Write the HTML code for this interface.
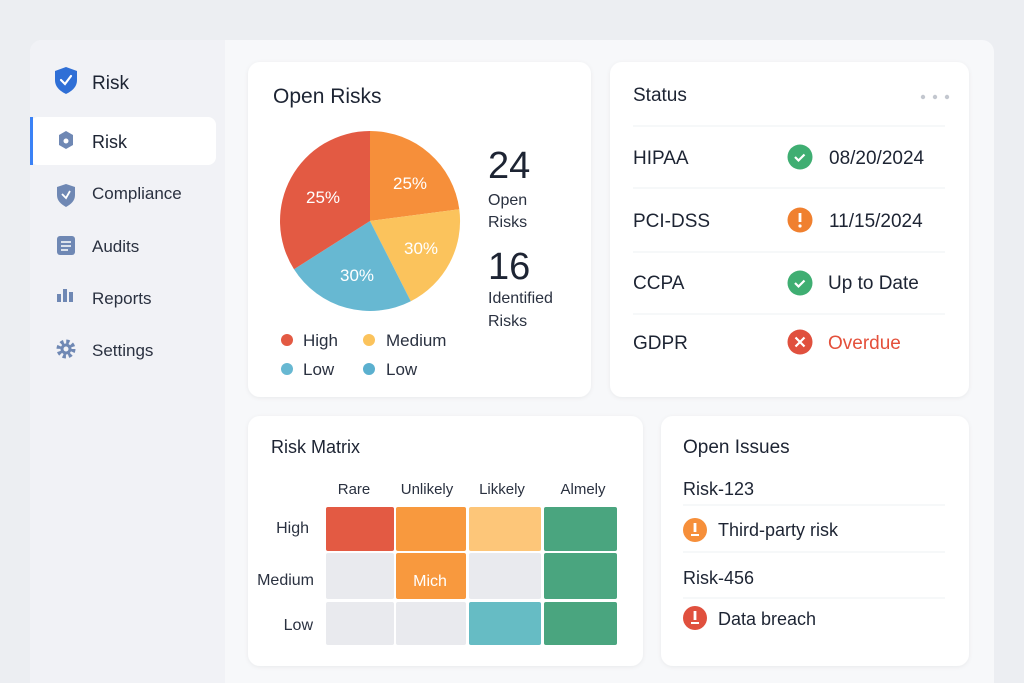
<!DOCTYPE html>
<html><head><meta charset="utf-8"><style>html,body{margin:0;padding:0;background:#eef0f4;overflow:hidden;width:1024px;height:683px}svg{display:block}text{font-family:"Liberation Sans",sans-serif}</style></head><body>
<svg width="1024" height="683" viewBox="0 0 1024 683" xmlns="http://www.w3.org/2000/svg">
<defs><filter id="sh" x="-10%" y="-10%" width="120%" height="120%"><feDropShadow dx="0" dy="1" stdDeviation="2" flood-color="#000" flood-opacity="0.06"/></filter></defs>
<rect width="1024" height="683" fill="#eceef2"/>
<path d="M42 40 H982 A12 12 0 0 1 994 52 V683 H30 V52 A12 12 0 0 1 42 40Z" fill="#f7f8fa"/>
<path d="M42 40 H225 V683 H30 V52 A12 12 0 0 1 42 40Z" fill="#f1f2f6"/>
<!-- sidebar -->
<path d="M66 67 L77 71 V80 C77 87 72 91 66 94 C60 91 55 87 55 80 V71Z" fill="#2f6fd6"/>
<path d="M61 80 L65 84 L71 76" stroke="#fff" stroke-width="2.2" fill="none" stroke-linecap="round"/>
<text x="92" y="89" font-size="19" fill="#1d2433">Risk</text>
<rect x="30" y="117" width="186" height="48" rx="8" fill="#fff"/>
<rect x="30" y="117" width="3" height="48" fill="#3b82f6"/>
<path d="M66 131 L73 135 V145 L66 149 L59 145 V135Z" fill="#6f88b4"/>
<circle cx="66" cy="141" r="2.5" fill="#fff"/>
<text x="92" y="148" font-size="18" fill="#1d2433">Risk</text>
<path d="M66 184 L75 187 V195 C75 201 71 204 66 207 C61 204 57 201 57 195 V187Z" fill="#6f88b4"/>
<path d="M62 194 L66 198 L70 191" stroke="#fff" stroke-width="1.8" fill="none"/>
<text x="92" y="199" font-size="17" fill="#2a3140">Compliance</text>
<rect x="57" y="236" width="18" height="19" rx="3" fill="#6f88b4"/>
<path d="M61 242h10M61 246h10M61 250h7" stroke="#fff" stroke-width="1.5"/>
<text x="92" y="252" font-size="17" fill="#2a3140">Audits</text>
<rect x="57" y="294" width="4" height="8" fill="#6f88b4"/><rect x="63" y="289" width="4" height="13" fill="#6f88b4"/><rect x="69" y="292" width="4" height="10" fill="#6f88b4"/>
<text x="92" y="304" font-size="17" fill="#2a3140">Reports</text>
<circle cx="66" cy="349" r="7" fill="none" stroke="#6f88b4" stroke-width="5" stroke-dasharray="3 2.5"/>
<circle cx="66" cy="349" r="5.5" fill="#6f88b4"/><circle cx="66" cy="349" r="2.5" fill="#f1f2f6"/>
<text x="92" y="356" font-size="17" fill="#2a3140">Settings</text>
<!-- cards -->
<rect x="248" y="62" width="343" height="335" rx="12" fill="#fff" filter="url(#sh)"/>
<rect x="610" y="62" width="359" height="335" rx="12" fill="#fff" filter="url(#sh)"/>
<rect x="248" y="416" width="395" height="250" rx="12" fill="#fff" filter="url(#sh)"/>
<rect x="661" y="416" width="308" height="250" rx="12" fill="#fff" filter="url(#sh)"/>
<!-- open risks -->
<text x="273" y="103" font-size="21" fill="#1d2433">Open Risks</text>
<path d="M370 221 L370 131 A90 90 0 0 1 459.3 209.3Z" fill="#f68f3a"/>
<path d="M370 221 L459.3 209.3 A90 90 0 0 1 410.8 301.2Z" fill="#fbc35c"/>
<path d="M370 221 L410.8 301.2 A90 90 0 0 1 294 269.2Z" fill="#67b8d2"/>
<path d="M370 221 L294 269.2 A90 90 0 0 1 370 131Z" fill="#e35a43"/>
<g font-size="17" fill="#fff" text-anchor="middle"><text x="323" y="203">25%</text><text x="410" y="189">25%</text><text x="421" y="254">30%</text><text x="357" y="281">30%</text></g>
<text x="488" y="178" font-size="38" fill="#1d2433">24</text>
<text x="488" y="205" font-size="16" fill="#2a3140">Open</text><text x="488" y="227" font-size="16" fill="#2a3140">Risks</text>
<text x="488" y="279" font-size="38" fill="#1d2433">16</text>
<text x="488" y="303" font-size="16" fill="#2a3140">Identified</text><text x="488" y="326" font-size="16" fill="#2a3140">Risks</text>
<circle cx="287" cy="340" r="6" fill="#e35a43"/><text x="303" y="346" font-size="17" fill="#2a3140">High</text>
<circle cx="369" cy="340" r="6" fill="#fbc35c"/><text x="386" y="346" font-size="17" fill="#2a3140">Medium</text>
<circle cx="287" cy="369" r="6" fill="#67b8d2"/><text x="303" y="375" font-size="17" fill="#2a3140">Low</text>
<circle cx="369" cy="369" r="6" fill="#5bb0cf"/><text x="386" y="375" font-size="17" fill="#2a3140">Low</text>
<!-- status -->
<text x="633" y="101" font-size="19" fill="#1d2433">Status</text>
<circle cx="923" cy="97" r="2.2" fill="#c3c7cf"/><circle cx="935" cy="97" r="2.2" fill="#c3c7cf"/><circle cx="947" cy="97" r="2.2" fill="#c3c7cf"/>
<g stroke="#eef0f3" stroke-width="1"><line x1="633" y1="126" x2="945" y2="126"/><line x1="633" y1="188" x2="945" y2="188"/><line x1="633" y1="252" x2="945" y2="252"/><line x1="633" y1="314" x2="945" y2="314"/></g>
<g font-size="19" fill="#1d2433"><text x="633" y="164">HIPAA</text><text x="633" y="227">PCI-DSS</text><text x="633" y="289">CCPA</text><text x="633" y="349">GDPR</text>
<text x="829" y="164">08/20/2024</text><text x="829" y="227">11/15/2024</text><text x="828" y="289">Up to Date</text><text x="828" y="349" fill="#e4503b">Overdue</text></g>
<circle cx="800" cy="157" r="12.5" fill="#3fae72"/><path d="M795 157 l3.5 3.5 l6 -6" stroke="#fff" stroke-width="2.2" fill="none"/>
<circle cx="800" cy="220" r="12.5" fill="#f0802f"/><rect x="798.6" y="213" width="2.8" height="9" fill="#fff"/><circle cx="800" cy="226" r="1.6" fill="#fff"/>
<circle cx="800" cy="283" r="12.5" fill="#3fae72"/><path d="M795 283 l3.5 3.5 l6 -6" stroke="#fff" stroke-width="2.2" fill="none"/>
<circle cx="800" cy="342" r="12.5" fill="#e0503e"/><path d="M795.5 337.5 l9 9 M804.5 337.5 l-9 9" stroke="#fff" stroke-width="2.2"/>
<!-- matrix -->
<text x="271" y="453" font-size="18" fill="#1d2433">Risk Matrix</text>
<g font-size="15" fill="#2a3140" text-anchor="middle"><text x="354" y="494">Rare</text><text x="427" y="494">Unlikely</text><text x="502" y="494">Likkely</text><text x="583" y="494">Almely</text></g>
<g font-size="16" fill="#2a3140" text-anchor="end"><text x="309" y="533">High</text><text x="314" y="585">Medium</text><text x="313" y="630">Low</text></g>
<rect x="326" y="507" width="68" height="44" rx="2" fill="#e35a43"/>
<rect x="396" y="507" width="70" height="44" rx="2" fill="#f8993e"/>
<rect x="469" y="507" width="72" height="44" rx="2" fill="#fdc679"/>
<rect x="544" y="507" width="73" height="44" rx="2" fill="#4aa57f"/>
<rect x="326" y="553" width="68" height="46" rx="2" fill="#e9eaee"/>
<rect x="396" y="553" width="70" height="46" rx="2" fill="#f8993e"/>
<rect x="469" y="553" width="72" height="46" rx="2" fill="#e9eaee"/>
<rect x="544" y="553" width="73" height="46" rx="2" fill="#4aa57f"/>
<rect x="326" y="602" width="68" height="43" rx="2" fill="#e9eaee"/>
<rect x="396" y="602" width="70" height="43" rx="2" fill="#e9eaee"/>
<rect x="469" y="602" width="72" height="43" rx="2" fill="#66bcc4"/>
<rect x="544" y="602" width="73" height="43" rx="2" fill="#4aa57f"/>
<text x="430" y="586" font-size="16" fill="#fff" text-anchor="middle">Mich</text>
<!-- open issues -->
<text x="683" y="453" font-size="19" fill="#1d2433">Open Issues</text>
<text x="683" y="495" font-size="18" fill="#1d2433">Risk-123</text>
<line x1="683" y1="505" x2="945" y2="505" stroke="#eef0f3"/>
<circle cx="695" cy="530" r="12" fill="#f68f3a"/><rect x="693.6" y="523" width="2.8" height="9" fill="#fff"/><rect x="691" y="534" width="8" height="2" fill="#fff"/>
<text x="718" y="536" font-size="18" fill="#1d2433">Third-party risk</text>
<line x1="683" y1="552" x2="945" y2="552" stroke="#eef0f3"/>
<text x="683" y="584" font-size="18" fill="#1d2433">Risk-456</text>
<line x1="683" y1="598" x2="945" y2="598" stroke="#eef0f3"/>
<circle cx="695" cy="618" r="12" fill="#e0503e"/><rect x="693.6" y="611" width="2.8" height="9" fill="#fff"/><rect x="691" y="622" width="8" height="2" fill="#fff"/>
<text x="718" y="625" font-size="18" fill="#1d2433">Data breach</text>
</svg>
</body></html>
